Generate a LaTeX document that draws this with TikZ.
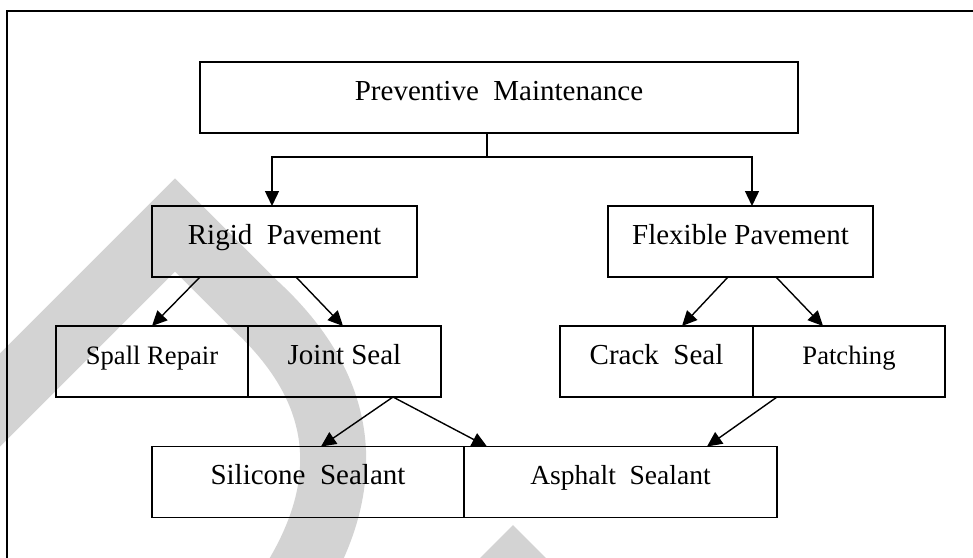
\documentclass[tikz,border=0pt]{standalone}
\usepackage{fontspec}
\setmainfont{Liberation Serif}
\usepackage{tikz}
\usetikzlibrary{arrows.meta,positioning}

\definecolor{wmgray}{RGB}{211,211,211}

\begin{document}
\begin{tikzpicture}[x=0.5pt, y=-0.5pt, >={Triangle[length=7.5pt,width=7pt]},
    box/.style={draw, line width=0.75pt, inner xsep=0pt, inner ysep=0pt, outer sep=0pt,
        text height=19pt, text depth=16.5pt, font=\fontsize{14.5}{17}\selectfont},
    small/.style={font=\fontsize{13.3}{16}\selectfont},
    link/.style={->, line width=0.7pt}]
    \useasboundingbox (0,0) rectangle (973,557);

    % watermark behind everything
    \draw[wmgray, line width=33pt, line join=miter] (-40,440) -- (175,225) -- (255,305)
        .. controls (342,385) and (364,482) .. (282,600);
    \fill[wmgray] (513,525) -- (463,575) -- (563,575) -- cycle;

    % outer frame
    \draw[line width=0.7pt] (7,11) rectangle (995,580);

    \node[box, minimum width=299pt] (pm) at (499,97.5) {Preventive\ \ Maintenance};
    \node[box, minimum width=132.5pt] (rigid) at (284.5,241.5) {Rigid\ \ Pavement};
    \node[box, minimum width=132.5pt] (flex) at (740.5,241.5) {Flexible Pavement};
    \node[box, small, minimum width=96pt] (spall) at (152,361.5) {Spall Repair};
    \node[box, minimum width=96.5pt, right=0pt of spall] (joint) {Joint Seal};
    \node[box, minimum width=96.5pt] (crack) at (656.5,361.5) {Crack\ \ Seal};
    \node[box, small, minimum width=96pt, right=0pt of crack] (patch) {Patching};
    \node[box, minimum width=156pt] (silicone) at (308,482) {Silicone\ \ Sealant};
    \node[box, font=\fontsize{13.75}{16}\selectfont, minimum width=156.5pt, right=0pt of silicone] (asphalt) {Asphalt\ \ Sealant};

    \coordinate (split) at ([xshift=-6pt,yshift=-12pt]pm.south);
    \draw[line width=0.7pt] ([xshift=-6pt]pm.south) -- (split);
    \draw[link] (split) -| ([xshift=-6.25pt]rigid.north);
    \draw[link] (split) -| ([xshift=5.75pt]flex.north);

    \draw[link] ([xshift=-42.25pt]rigid.south) -- (spall.north);
    \draw[link] ([xshift=5.75pt]rigid.south) -- ([xshift=-0.75pt]joint.north);
    \draw[link] ([xshift=-6.25pt]flex.south) -- ([xshift=12.75pt]crack.north);
    \draw[link] ([xshift=17.75pt]flex.south) -- ([xshift=-13pt]patch.north);

    \draw[link] ([xshift=24.25pt]joint.south) -- ([xshift=6.5pt]silicone.north);
    \draw[link] ([xshift=24.25pt]joint.south) -- ([xshift=11.5pt]asphalt.north west);
    \draw[link] ([xshift=12pt]patch.south west) -- ([xshift=43.25pt]asphalt.north);
\end{tikzpicture}
\end{document}
